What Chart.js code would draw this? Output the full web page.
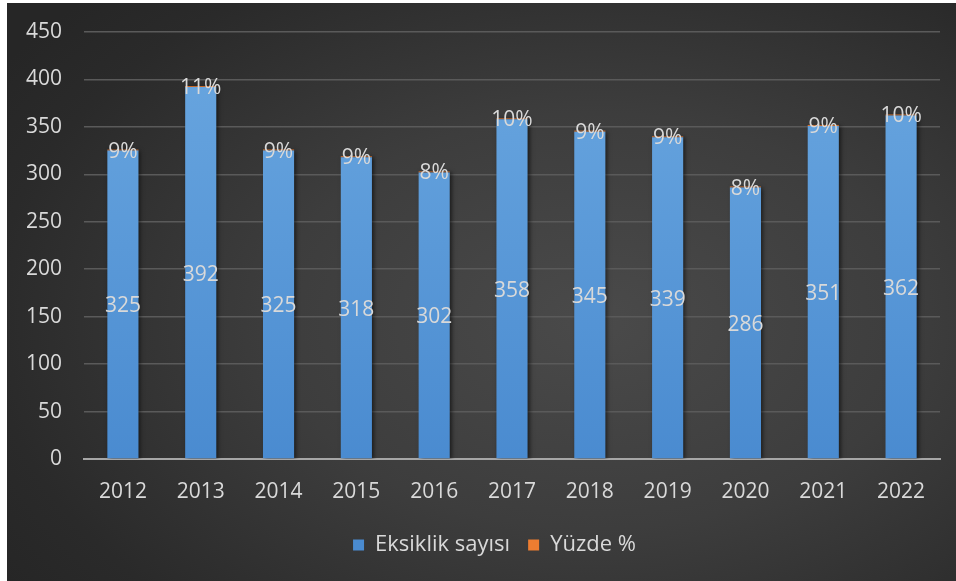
<!DOCTYPE html>
<html>
<head>
<meta charset="utf-8">
<script src="https://cdn.jsdelivr.net/npm/chart.js@4.4.0/dist/chart.umd.min.js"></script>
<style>
    html, body { margin: 0; padding: 0; background: #ffffff; }
    #wrap {
        position: absolute;
        left: 7px; top: 3px;
        width: 949px; height: 578px;
        background: radial-gradient(ellipse 75% 80% at 62% 55%, #4a4a4a 0%, #3d3d3d 45%, #2a2a2a 85%, #262626 100%);
    }
</style>
</head>
<body>
<div id="wrap"><canvas id="chart" width="949" height="578"></canvas></div>
<script>
// Values
const years = ['2012', '2013', '2014', '2015', '2016', '2017', '2018', '2019', '2020', '2021', '2022'];
const counts = [325, 392, 325, 318, 302, 358, 345, 339, 286, 351, 362];
const percents = [0.09, 0.11, 0.09, 0.09, 0.08, 0.10, 0.09, 0.09, 0.08, 0.09, 0.10];
const yTicks = [0, 50, 100, 150, 200, 250, 300, 350, 400, 450];

const fontFamily = "'Open Sans', 'Noto Sans', sans-serif";
const textColor = '#d9d9d9';

function barFill(context) {
    const chart = context.chart;
    const area = chart.chartArea;
    if (!area) return '#5b9bd5';
    const g = chart.ctx.createLinearGradient(0, area.top, 0, area.bottom);
    g.addColorStop(0, '#6aa7e0');
    g.addColorStop(1, '#4a8bd0');
    return g;
}

// bar shadow + value labels
const labelPlugin = {
    id: 'barLabels',
    afterLayout(chart) {
        // legend sits a bit right of centre in the original
        chart.legend.left += 21;
        chart.legend.right += 21;
    },
    beforeDatasetsDraw(chart) {
        const ctx = chart.ctx;
        ctx.save();
        ctx.shadowColor = 'rgba(0,0,0,0.55)';
        ctx.shadowBlur = 4;
        ctx.shadowOffsetX = 2;
        ctx.shadowOffsetY = 1;
    },
    afterDatasetsDraw(chart) {
        const ctx = chart.ctx;
        ctx.restore();
        ctx.save();
        ctx.font = '21px ' + fontFamily;
        ctx.fillStyle = textColor;
        ctx.textAlign = 'center';
        ctx.textBaseline = 'middle';
        const m0 = chart.getDatasetMeta(0);
        const m1 = chart.getDatasetMeta(1);
        m0.data.forEach(function(bar, i) {
            ctx.fillText(String(counts[i]), bar.x, (bar.y + bar.base) / 2 + 2);
        });
        m1.data.forEach(function(bar, i) {
            ctx.fillText(Math.round(percents[i] * 100) + '%', bar.x, bar.y + 2);
        });
        ctx.restore();
    }
};

new Chart(document.getElementById('chart').getContext('2d'), {
    type: 'bar',
    data: {
        labels: years,
        datasets: [
            {
                label: 'Eksiklik sayısı',
                data: counts,
                backgroundColor: barFill,
                borderWidth: 0,
                categoryPercentage: 1.0,
                barPercentage: 0.4
            },
            {
                label: 'Yüzde %',
                data: percents,
                backgroundColor: '#ed7d31',
                borderWidth: 0,
                minBarLength: 1,
                categoryPercentage: 1.0,
                barPercentage: 0.4
            }
        ]
    },
    options: {
        responsive: false,
        animation: false,
        layout: { padding: { left: 0, right: 16, top: 29, bottom: 15 } },
        scales: {
            x: {
                stacked: true,
                grid: { display: false, drawTicks: false },
                border: { color: '#a6a6a6', width: 2 },
                ticks: { color: textColor, font: { family: fontFamily, size: 21 }, padding: 20 },
                afterFit(scale) { scale.height = 57; }
            },
            y: {
                stacked: true,
                min: 0,
                max: 450,
                afterBuildTicks(scale) { scale.ticks = yTicks.map(v => ({ value: v })); },
                grid: { color: '#5a5a5a', lineWidth: 1.5, drawTicks: false },
                border: { display: false },
                ticks: { color: textColor, font: { family: fontFamily, size: 21 }, padding: 22 },
                afterFit(scale) {
                    scale.width = 77;
                    scale.paddingTop = 0;
                    scale.paddingBottom = 0;
                }
            }
        },
        plugins: {
            legend: {
                position: 'bottom',
                labels: {
                    color: textColor,
                    font: { family: fontFamily, size: 22 },
                    boxWidth: 11,
                    boxHeight: 11,
                    padding: 18
                }
            },
            tooltip: { enabled: false }
        }
    },
    plugins: [labelPlugin]
});
</script>
</body>
</html>
